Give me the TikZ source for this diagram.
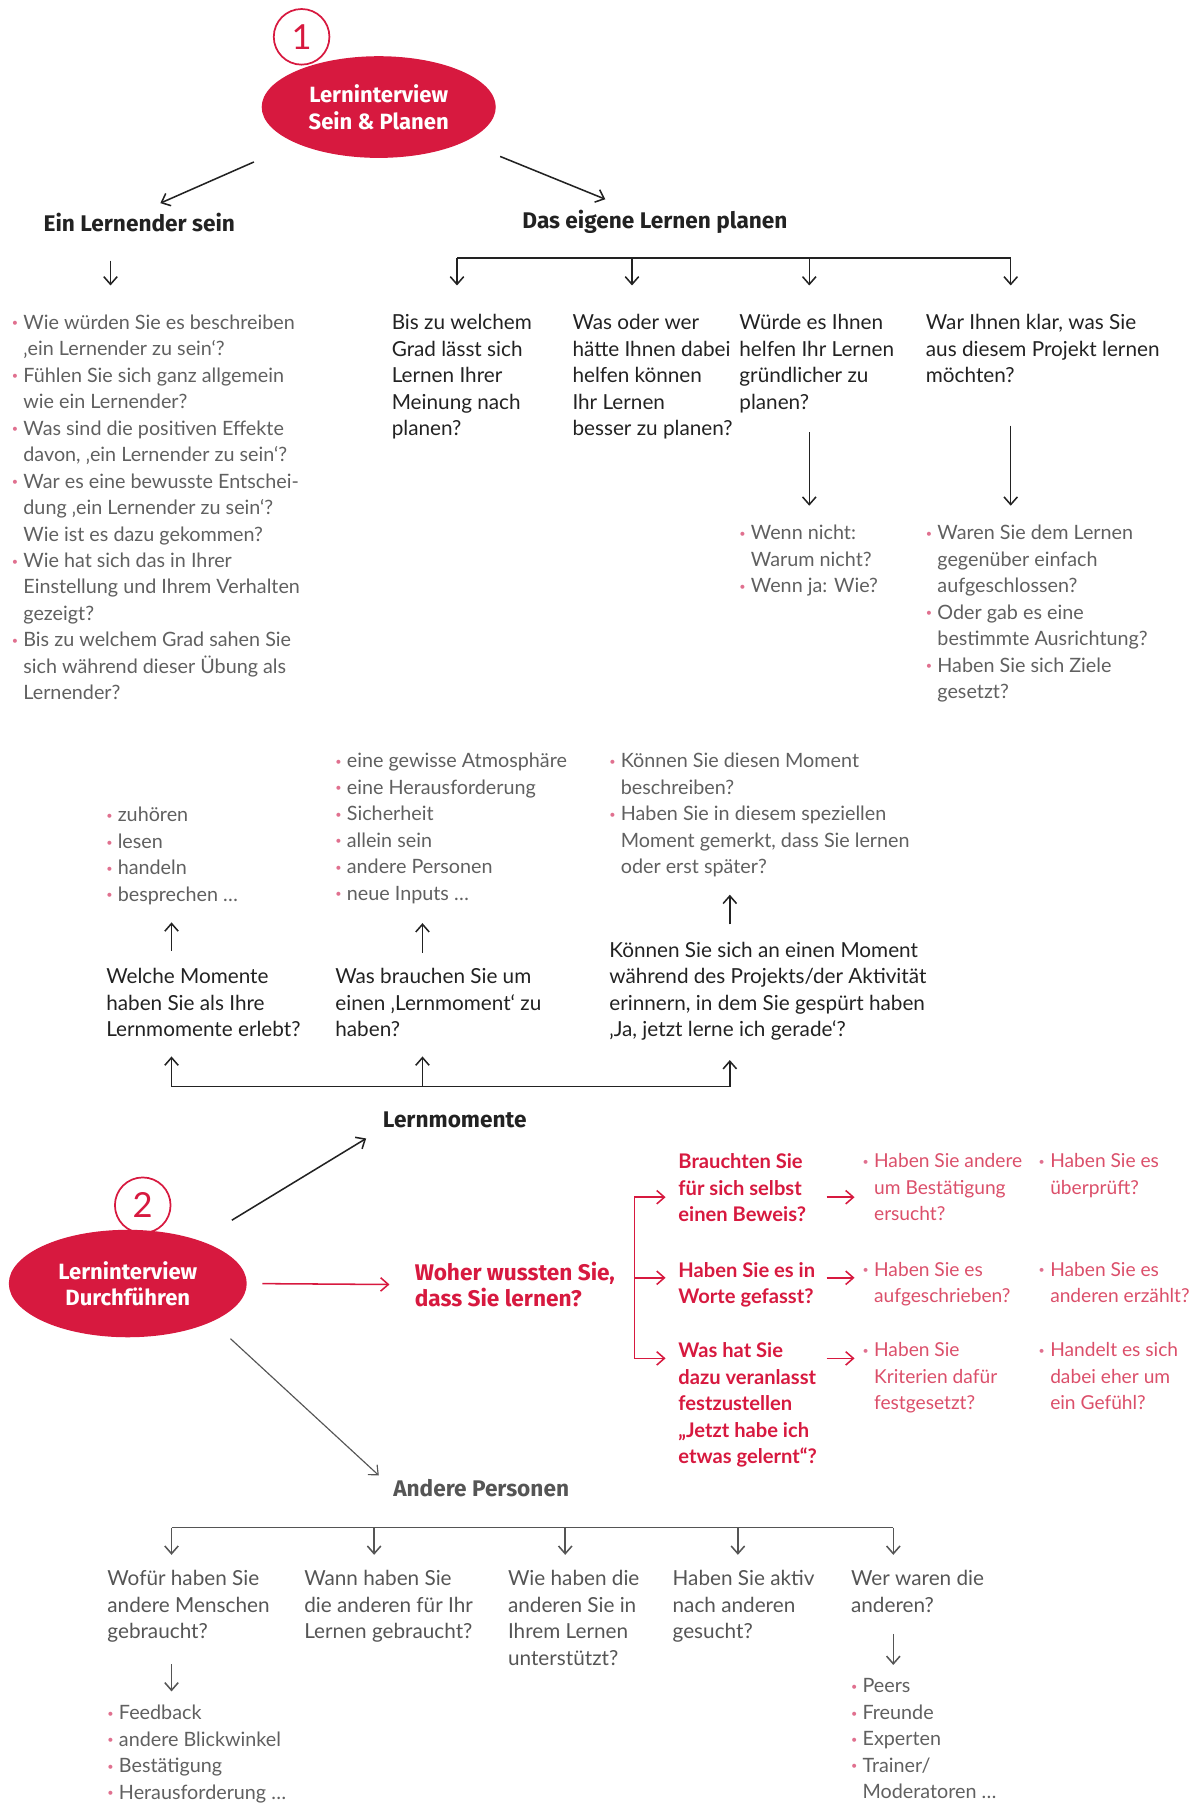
\documentclass[tikz,border=0pt]{standalone}
\usepackage{fontspec}
\setmainfont{Lato}
\newfontfamily\headfont{Fira Sans}
\usetikzlibrary{shapes.geometric,arrows.meta}
\definecolor{lired}{HTML}{D7193F}
\definecolor{pired}{HTML}{DB4F6A}
\definecolor{ink}{HTML}{222222}
\definecolor{body}{HTML}{606060}
\definecolor{gink}{HTML}{555555}
\definecolor{dot}{HTML}{E0708F}
\newcommand\bul{\makebox[6pt][l]{\textcolor{dot}{\raisebox{0.12em}{\scalebox{0.55}{\textbullet}}}}}
\newcommand\ind{\hspace*{6pt}}

\begin{document}
\begin{tikzpicture}[x=0.6pt,y=-0.6pt,
          every node/.style={inner sep=0pt,anchor=north west,align=left},
          txt/.style={font=\fontsize{10.3}{13.8}\selectfont,text=body},
          qst/.style={font=\fontsize{10.8}{13.8}\selectfont,text=ink},
          gqst/.style={qst,text=gink},
          rqst/.style={font=\bfseries\fontsize{10.5}{13.8}\selectfont,text=lired},
          rtxt/.style={txt,font=\fontsize{10}{13.8}\selectfont,text=pired},
          hd/.style={anchor=center,font=\headfont\bfseries\fontsize{11.8}{13.8}\selectfont,text=ink},
          oval/.style={ellipse,fill=lired,text=white,anchor=center,align=center,
            minimum width=122pt,minimum height=53pt,font=\headfont\bfseries\fontsize{11.5}{13.8}\selectfont},
          num/.style={circle,draw=lired,line width=0.9pt,text=lired,anchor=center,
            minimum size=29pt,font=\fontsize{18}{18}\selectfont},
          ln/.style={line width=0.8pt,draw=ink},
          ar/.style={ln,-{Straight Barb[length=4pt,width=7pt]}},
          rln/.style={ln,draw=lired},
          rar/.style={ar,draw=lired},
          gln/.style={ln,draw=gink},
          gar/.style={ar,draw=gink}]
          \useasboundingbox (0,0) rectangle (1041,1568);

          \node[num] (n1) at (262,32) {1};
          \node[oval] (e1) at (329,93) {Lerninterview\\Sein \& Planen};
          \node[hd] (ls) at (121,193) {Ein Lernender sein};
          \node[hd] (lp) at (569,193) {Das eigene Lernen planen};

          \node[txt] (lb) at (10,273) {\bul Wie würden Sie es beschreiben\\
            \ind ‚ein Lernender zu sein‘?\\
            \bul Fühlen Sie sich ganz allgemein\\
            \ind wie ein Lernender?\\
            \bul Was sind die positiven Effekte\\
            \ind davon, ‚ein Lernender zu sein‘?\\
            \bul War es eine bewusste Entschei-\\
            \ind dung ‚ein Lernender zu sein‘?\\
            \ind Wie ist es dazu gekommen?\\
            \bul Wie hat sich das in Ihrer\\
            \ind Einstellung und Ihrem Verhalten\\
            \ind gezeigt?\\
            \bul Bis zu welchem Grad sahen Sie\\
            \ind sich während dieser Übung als\\
            \ind Lernender?};
          \node[qst] (q1) at (340,273) {Bis zu welchem\\Grad lässt sich\\Lernen Ihrer\\Meinung nach\\planen?};
          \node[qst] (q2) at (497,273) {Was oder wer\\hätte Ihnen dabei\\helfen können\\Ihr Lernen\\besser zu planen?};
          \node[qst] (q3) at (642,273) {Würde es Ihnen\\helfen Ihr Lernen\\gründlicher zu\\planen?};
          \node[qst] (q4) at (804,273) {War Ihnen klar, was Sie\\aus diesem Projekt lernen\\möchten?};
          \node[txt] (r3) at (642,456) {\bul Wenn nicht:\\\ind Warum nicht?\\\bul Wenn ja: Wie?};
          \node[txt] (r4) at (804,456) {\bul Waren Sie dem Lernen\\\ind gegenüber einfach\\\ind aufgeschlossen?\\
            \bul Oder gab es eine\\\ind bestimmte Ausrichtung?\\\bul Haben Sie sich Ziele\\\ind gesetzt?};

          \draw[ar,shorten <=24pt,shorten >=12pt] (e1) -- (ls.north);
          \draw[ar,shorten <=20pt,shorten >=15pt] (e1) -- ([xshift=-12pt]lp.north);
          \draw[ar,shorten <=15pt,shorten >=15pt] (ls.south -| 96,0) -- (lb.north -| 96,0);
          \coordinate (b1) at (397,224);
          \coordinate (b2) at (549,224);
          \coordinate (b3) at (703,224);
          \coordinate (b4) at (878,224);
          \draw[ln] (b1) -- (b4);
          \foreach \i in {1,...,4}
            \draw[ar,shorten >=15pt] (b\i) -- (b\i |- q\i.north);
          \draw[ar,shorten <=10pt,shorten >=10pt] (q3.south -| 703,0) -- (r3.north -| 703,0);
          \draw[ar,shorten <=22pt,shorten >=10pt] (q4.south -| 878,0) -- (r4.north -| 878,0);

          \node[txt] (m1) at (92,701) {\bul zuhören\\\bul lesen\\\bul handeln\\\bul besprechen …};
          \node[txt] (m2) at (291,654) {\bul eine gewisse Atmosphäre\\\bul eine Herausforderung\\\bul Sicherheit\\
            \bul allein sein\\\bul andere Personen\\\bul neue Inputs …};
          \node[txt] (m3) at (529,654) {\bul Können Sie diesen Moment\\\ind beschreiben?\\\bul Haben Sie in diesem speziellen\\
            \ind Moment gemerkt, dass Sie lernen\\\ind oder erst später?};
          \node[qst] (k1) at (92,841) {Welche Momente\\haben Sie als Ihre\\Lernmomente erlebt?};
          \node[qst] (k2) at (291,841) {Was brauchen Sie um\\einen ‚Lernmoment‘ zu\\haben?};
          \node[qst] (k3) at (529,818) {Können Sie sich an einen Moment\\während des Projekts/der Aktivität\\
            erinnern, in dem Sie gespürt haben\\‚Ja, jetzt lerne ich gerade‘?};
          \draw[ar,shorten <=9pt,shorten >=9pt] (k1.north -| 149,0) -- (m1.south -| 149,0);
          \draw[ar,shorten <=8pt,shorten >=10pt] (k2.north -| 367,0) -- (m2.south -| 367,0);
          \draw[ar,shorten <=9pt,shorten >=9pt] (k3.north -| 634,0) -- (m3.south -| 634,0);
          \coordinate (c1) at (149,944);
          \coordinate (c2) at (367,944);
          \coordinate (c3) at (634,944);
          \draw[ln] (c1) -- (c3);
          \foreach \i in {1,2,3}
            \draw[ar,shorten >=10pt] (c\i) -- (c\i |- k\i.south);

          \node[hd] (lm) at (395,973) {Lernmomente};
          \node[num] (n2) at (124,1047) {2};
          \node[oval,minimum width=124pt,minimum height=56pt] (e2) at (111,1115) {Lerninterview\\Durchführen};
          \node[hd,anchor=north west,text=lired] (wq) at (360,1096) {Woher wussten Sie,\\dass Sie lernen?};
          \node[hd,text=gink] (ap) at (418,1293) {Andere Personen};
          \draw[ar,shorten <=20pt,shorten >=10pt] (e2) -- (lm.south west);
          \draw[rar,shorten <=8pt,shorten >=13pt] (e2.east) -- (wq.west);
          \draw[gar,line width=0.6pt,shorten <=13pt,shorten >=10pt] (e2.south east) -- (ap.west);

          \node[rqst] (rq1) at (589,1002) {Brauchten Sie\\für sich selbst\\einen Beweis?};
          \node[rqst] (rq2) at (589,1096) {Haben Sie es in\\Worte gefasst?};
          \node[rqst] (rq3) at (589,1166) {Was hat Sie\\dazu veranlasst\\festzustellen\\„Jetzt habe ich\\etwas gelernt“?};
          \node[rtxt] (s1) at (749,1002) {\bul Haben Sie andere\\\ind um Bestätigung\\\ind ersucht?};
          \node[rtxt] (s2) at (749,1096) {\bul Haben Sie es\\\ind aufgeschrieben?};
          \node[rtxt] (s3) at (749,1166) {\bul Haben Sie\\\ind Kriterien dafür\\\ind festgesetzt?};
          \node[rtxt] (t1) at (902,1002) {\bul Haben Sie es\\\ind überprüft?};
          \node[rtxt] (t2) at (902,1096) {\bul Haben Sie es\\\ind anderen erzählt?};
          \node[rtxt] (t3) at (902,1166) {\bul Handelt es sich\\\ind dabei eher um\\\ind ein Gefühl?};
          \coordinate (h1) at (551,1040);
          \coordinate (h2) at (551,1110);
          \coordinate (h3) at (551,1180);
          \coordinate (j1) at (718,1040);
          \coordinate (j2) at (718,1110);
          \coordinate (j3) at (718,1180);
          \draw[rln] (h1) -- (h3);
          \foreach \i in {1,2,3} {
            \draw[rar,shorten >=6.5pt] (h\i) -- (h\i -| rq\i.west);
            \draw[rar,shorten >=4pt] (j\i) -- (j\i -| s\i.west);
          }

          \node[gqst] (p1) at (93,1364) {Wofür haben Sie\\andere Menschen\\gebraucht?};
          \node[gqst] (p2) at (264,1364) {Wann haben Sie\\die anderen für Ihr\\Lernen gebraucht?};
          \node[gqst] (p3) at (441,1364) {Wie haben die\\anderen Sie in\\Ihrem Lernen\\unterstützt?};
          \node[gqst] (p4) at (584,1364) {Haben Sie aktiv\\nach anderen\\gesucht?};
          \node[gqst] (p5) at (739,1364) {Wer waren die\\anderen?};
          \node[txt] (f1) at (93,1481) {\bul Feedback\\\bul andere Blickwinkel\\\bul Bestätigung\\\bul Herausforderung …};
          \node[txt] (f5) at (739,1458) {\bul Peers\\\bul Freunde\\\bul Experten\\\bul Trainer/\\\ind Moderatoren …};
          \coordinate (d1) at (149,1327);
          \coordinate (d2) at (325,1327);
          \coordinate (d3) at (491,1327);
          \coordinate (d4) at (641,1327);
          \coordinate (d5) at (776,1327);
          \draw[gln] (d1) -- (d5);
          \foreach \i in {1,...,5}
            \draw[gar,shorten >=8pt] (d\i) -- (d\i |- p\i.north);
          \draw[gar,shorten <=11pt,shorten >=7pt] (p1.south -| 149,0) -- (f1.north -| 149,0);
          \draw[gar,shorten <=11pt,shorten >=7pt] (p5.south -| 776,0) -- (f5.north -| 776,0);
        \end{tikzpicture}
\end{document}
